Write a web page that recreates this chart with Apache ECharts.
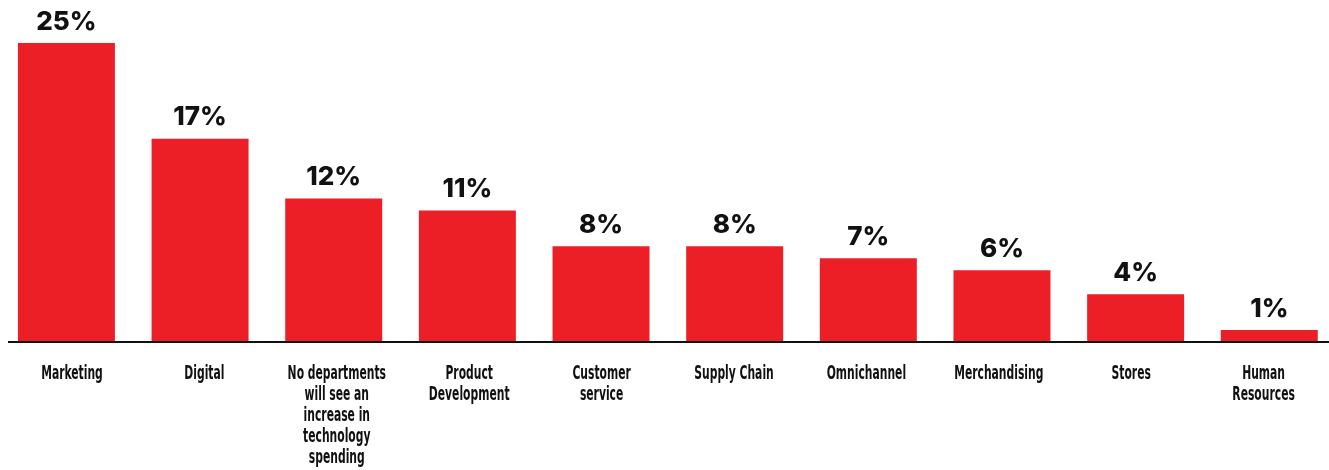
<!DOCTYPE html>
<html>
<head>
<meta charset="utf-8">
<script src="https://cdn.jsdelivr.net/npm/echarts@6/dist/echarts.min.js"></script>
<style>
  html, body { margin: 0; padding: 0; background: #ffffff; }
  #chart { width: 1329px; height: 470px; }
</style>
</head>
<body>
<div id="chart"></div>
<script>
// Departments expected to see an increase in technology spending
const categories = [
  'Marketing',
  'Digital',
  'No departments\nwill see an\nincrease in\ntechnology\nspending',
  'Product\nDevelopment',
  'Customer\nservice',
  'Supply Chain',
  'Omnichannel',
  'Merchandising',
  'Stores',
  'Human\nResources'
];
const shares = [25, 17, 12, 11, 8, 8, 7, 6, 4, 1];

const chart = echarts.init(document.getElementById('chart'), null, { renderer: 'canvas' });

const option = {
  animation: false,
  backgroundColor: '#ffffff',
  grid: [
    // bars
    { left: -0.4, width: 1336.5, top: 43, bottom: 128, containLabel: false, outerBoundsMode: 'none' },
    // caption row (slightly tighter spacing than the bars)
    { left: 5.8, width: 1324, top: 43, bottom: 128, containLabel: false, outerBoundsMode: 'none' }
  ],
  xAxis: [
    {
      type: 'category',
      gridIndex: 0,
      data: categories,
      axisLine: { show: false },
      axisTick: { show: false },
      axisLabel: { show: false }
    },
    {
      type: 'category',
      gridIndex: 1,
      data: categories,
      show: false
    }
  ],
  yAxis: [
    { type: 'value', gridIndex: 0, min: 0, max: 25, show: false, splitLine: { show: false } },
    { type: 'value', gridIndex: 1, min: 0, max: 25, show: false, splitLine: { show: false } }
  ],
  series: [{
    type: 'bar',
    xAxisIndex: 0,
    yAxisIndex: 0,
    data: shares,
    barWidth: 97,
    itemStyle: { color: '#ed1f26' },
    label: {
      show: true,
      position: 'top',
      distance: 8,
      formatter: '{c}%',
      color: '#111111',
      fontFamily: 'Inter, "Open Sans", sans-serif',
      fontWeight: 800,
      fontSize: 26
    }
  }]
};

chart.setOption(option);

// Baseline rule and condensed category captions under the bars
const baseY = chart.convertToPixel({ yAxisIndex: 0 }, 0);
const graphics = [{
  type: 'line',
  shape: { x1: 8, y1: baseY, x2: 1329, y2: baseY },
  style: { stroke: '#111111', lineWidth: 2 },
  z: 10
}];
categories.forEach(function (name, i) {
  graphics.push({
    type: 'text',
    x: chart.convertToPixel({ xAxisIndex: 1 }, i),
    y: baseY + 22,
    scaleX: 0.63,
    style: {
      text: name,
      x: 0,
      y: 0,
      fill: '#111111',
      font: 'bold 19px "DejaVu Sans Condensed", "DejaVu Sans", sans-serif',
      lineHeight: 21,
      textAlign: 'center',
      textVerticalAlign: 'top'
    },
    z: 10
  });
});
chart.setOption({ graphic: graphics });
</script>
</body>
</html>
